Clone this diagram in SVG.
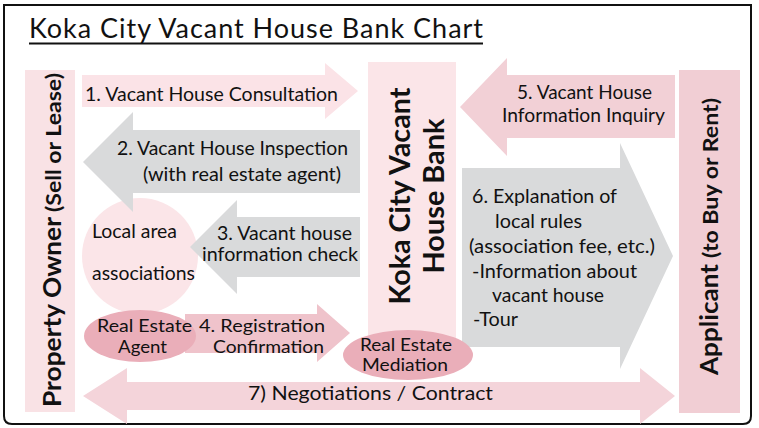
<svg xmlns="http://www.w3.org/2000/svg" width="759" height="428" viewBox="0 0 759 428">
<style>
.t{font-family:Lato,"Open Sans","Liberation Sans",sans-serif;font-size:19px;fill:#111}
.s{font-size:17.5px}
.b{font-family:Lato,"Open Sans","Liberation Sans",sans-serif;font-weight:bold;fill:#111}
.gray{fill:#d9dadb}
.pk1{fill:#fbe5e8}
.pk2{fill:#f2d0d6}
.pk3{fill:#efc3cb}
.ell{fill:#eaaeb9}
</style>
<rect x="0" y="0" width="759" height="428" fill="#fff"/>
<path d="M4,5 H751 V416 Q751,424 743,424 H12 Q4,424 4,416 Z" fill="#fff" stroke="#111" stroke-width="2"/>
<text class="t" x="29" y="38" style="font-size:27px" textLength="454" lengthAdjust="spacing">Koka City Vacant House Bank Chart</text>
<line x1="29" y1="43.5" x2="483" y2="43.5" stroke="#111" stroke-width="1.8"/>

<g id="owner">
<rect x="25" y="70" width="50" height="342" style="fill:#f9e2e5"/>
<text class="b" transform="translate(61,407) rotate(-90)" style="font-size:25px" textLength="190" lengthAdjust="spacingAndGlyphs">Property Owner</text>
<text class="b" transform="translate(61,212) rotate(-90)" style="font-size:21px" textLength="139" lengthAdjust="spacingAndGlyphs">(Sell or Lease)</text>
</g>

<g id="bank">
<rect x="368" y="62" width="88" height="285" class="pk1"/>
<text class="b" transform="translate(410,196) rotate(-90)" text-anchor="middle" style="font-size:28px" textLength="217" lengthAdjust="spacingAndGlyphs">Koka City Vacant</text>
<text class="b" transform="translate(444,196) rotate(-90)" text-anchor="middle" style="font-size:28px" textLength="155" lengthAdjust="spacingAndGlyphs">House Bank</text>
</g>

<g id="applicant">
<rect x="679" y="70" width="61" height="343" style="fill:#f1ced4"/>
<text class="b" transform="translate(718,375) rotate(-90)" style="font-size:25px" textLength="111" lengthAdjust="spacingAndGlyphs">Applicant</text>
<text class="b" transform="translate(718,258) rotate(-90)" style="font-size:21px" textLength="160" lengthAdjust="spacingAndGlyphs">(to Buy or Rent)</text>
</g>

<g id="local-associations">
<circle cx="140" cy="256" r="58" class="pk1"/>
<text class="t" x="92" y="238" textLength="85" lengthAdjust="spacingAndGlyphs">Local area</text>
<text class="t" x="92" y="280" textLength="103" lengthAdjust="spacingAndGlyphs">associations</text>
</g>

<g id="connectors">
<polygon id="arrow1" points="82,75 325,75 325,63 358,91 325,119 325,107 82,107" style="fill:#fbe3e7"/>
<text class="t" x="85" y="101" textLength="253" lengthAdjust="spacingAndGlyphs">1. Vacant House Consultation</text>

<polygon id="arrow2" points="360,130 133,130 133,112 83,162 133,212 133,193 360,193" class="gray"/>
<text class="t" x="117" y="155" textLength="231" lengthAdjust="spacingAndGlyphs">2. Vacant House Inspection</text>
<text class="t" x="143" y="181" textLength="198" lengthAdjust="spacingAndGlyphs">(with real estate agent)</text>

<polygon id="arrow3" points="360,217 237,217 237,200 190,247 237,294 237,277 360,277" class="gray"/>
<text class="t" x="217" y="240" textLength="135" lengthAdjust="spacingAndGlyphs">3. Vacant house</text>
<text class="t" x="202" y="261" textLength="156" lengthAdjust="spacingAndGlyphs">information check</text>

<polygon id="arrow4" points="185,314 317,314 317,304 350,333 317,362 317,353 185,353" class="pk3"/>
<text class="t s" x="199" y="332" textLength="126" lengthAdjust="spacingAndGlyphs">4. Registration</text>
<text class="t s" x="213" y="353" textLength="111" lengthAdjust="spacingAndGlyphs">Confirmation</text>

<polygon id="arrow5" points="675,75 507,75 507,58 460,107 507,156 507,138 675,138" class="pk2"/>
<text class="t" x="517" y="99" textLength="135" lengthAdjust="spacingAndGlyphs">5. Vacant House</text>
<text class="t" x="502" y="122" textLength="163" lengthAdjust="spacingAndGlyphs">Information Inquiry</text>

<polygon id="arrow6" points="462,168 620,168 620,143 673,256 620,369 620,347 462,347" class="gray"/>
<text class="t" x="472" y="203" textLength="145" lengthAdjust="spacingAndGlyphs">6. Explanation of</text>
<text class="t" x="495" y="228" textLength="87" lengthAdjust="spacingAndGlyphs">local rules</text>
<text class="t" x="469" y="253" textLength="186" lengthAdjust="spacingAndGlyphs">(association fee, etc.)</text>
<text class="t" x="472" y="278" textLength="165" lengthAdjust="spacingAndGlyphs">-Information about</text>
<text class="t" x="492" y="302" textLength="112" lengthAdjust="spacingAndGlyphs">vacant house</text>
<text class="t" x="473" y="326" textLength="45" lengthAdjust="spacingAndGlyphs">-Tour</text>

<polygon id="arrow7" points="83,396 127,368 127,382 640,382 640,368 675,396 640,424 640,410 127,410 127,424" style="fill:#f4d4da"/>
<text class="t" x="248" y="400" textLength="245" lengthAdjust="spacingAndGlyphs">7) Negotiations / Contract</text>
</g>

<g id="real-estate-agent">
<ellipse cx="140" cy="336" rx="56" ry="26" class="ell"/>
<text class="t s" x="97" y="332" textLength="95" lengthAdjust="spacingAndGlyphs">Real Estate</text>
<text class="t s" x="118" y="353" textLength="49" lengthAdjust="spacingAndGlyphs">Agent</text>
</g>

<g id="real-estate-mediation">
<ellipse cx="408" cy="355" rx="65" ry="25" class="ell"/>
<text class="t s" x="360" y="351" textLength="92" lengthAdjust="spacingAndGlyphs">Real Estate</text>
<text class="t s" x="362" y="371" textLength="86" lengthAdjust="spacingAndGlyphs">Mediation</text>
</g>
</svg>
